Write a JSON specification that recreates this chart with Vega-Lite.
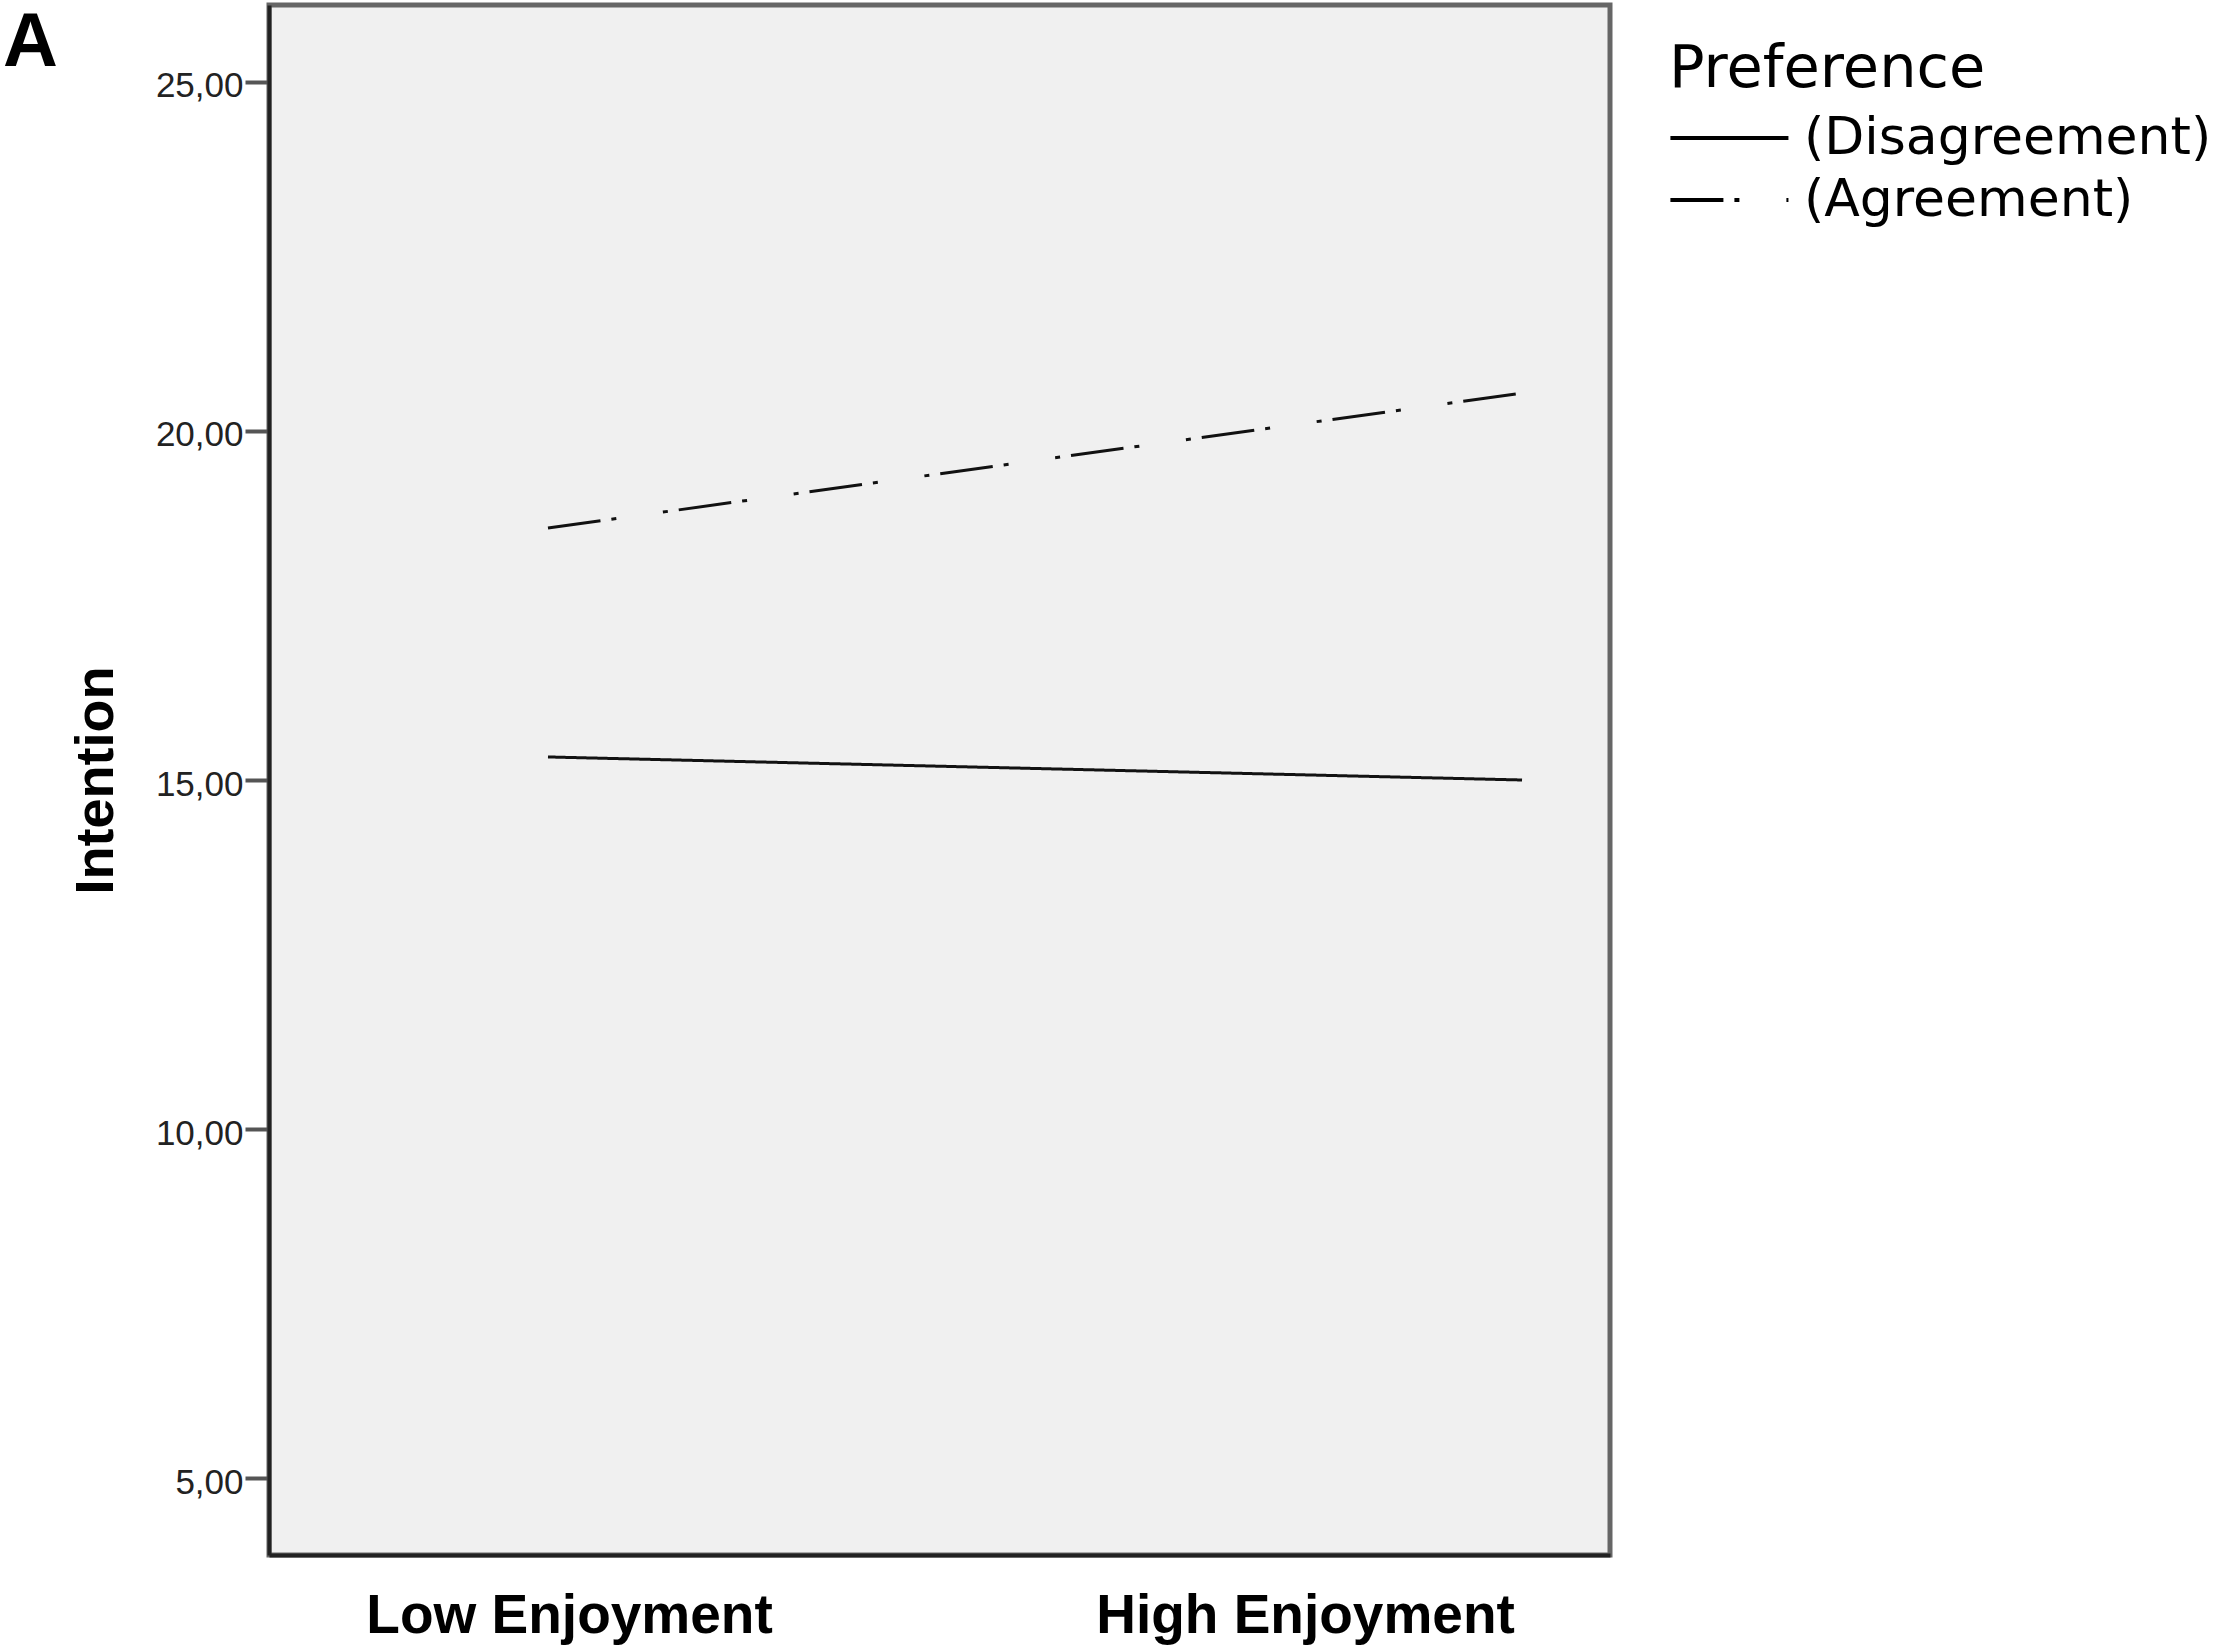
{
  "$schema": "https://vega.github.io/schema/vega-lite/v6.json",
  "autosize": {"type": "none"},
  "width": 1341,
  "height": 1550,
  "padding": {"left": 269, "top": 5, "right": 607, "bottom": 95},
  "background": "white",
  "title": {
    "text": "A",
    "anchor": "start",
    "frame": "group",
    "orient": "top",
    "offset": -77,
    "font": "Liberation Sans",
    "fontSize": 76,
    "fontWeight": "bold",
    "color": "black",
    "baseline": "top",
    "dx": -266,
    "limit": 0
  },
  "config": {
    "view": {"fill": "#f0f0f0", "stroke": "#666666", "strokeWidth": 5}
  },
  "data": {
    "values": [
      {"enjoyment": 1, "preference": "(Disagreement)", "intention": 15.33},
      {"enjoyment": 2, "preference": "(Disagreement)", "intention": 15.0},
      {"enjoyment": 1, "preference": "(Agreement)", "intention": 18.61},
      {"enjoyment": 2, "preference": "(Agreement)", "intention": 20.54}
    ]
  },
  "mark": {"type": "line", "color": "#111111", "strokeWidth": 3},
  "encoding": {
    "x": {
      "field": "enjoyment",
      "type": "quantitative",
      "scale": {"domain": [0.7136, 2.0903], "nice": false, "zero": false},
      "axis": {
        "title": null,
        "values": [1.0216, 1.7772],
        "labelExpr": "datum.value < 1.4 ? 'Low Enjoyment' : 'High Enjoyment'",
        "ticks": false,
        "grid": false,
        "domain": true,
        "domainColor": "#222222",
        "domainWidth": 4,
        "labelFont": "Liberation Sans",
        "labelFontSize": 55,
        "labelFontWeight": "bold",
        "labelColor": "black",
        "labelBaseline": "alphabetic",
        "labelAlign": "center",
        "labelPadding": 77,
        "labelFlush": false,
        "labelOverlap": false,
        "labelLimit": 0
      }
    },
    "y": {
      "field": "intention",
      "type": "quantitative",
      "scale": {"domain": [3.9, 26.1], "nice": false, "zero": false},
      "axis": {
        "title": "Intention",
        "values": [5, 10, 15, 20, 25],
        "labelExpr": "replace(format(datum.value, '.2f'), '.', ',')",
        "grid": false,
        "domain": true,
        "domainColor": "#222222",
        "domainWidth": 4,
        "ticks": true,
        "tickSize": 24,
        "tickWidth": 4,
        "tickColor": "#555555",
        "labelFont": "Liberation Sans",
        "labelFontSize": 35,
        "labelColor": "#222222",
        "labelPadding": 2,
        "labelOffset": 4,
        "labelFlush": false,
        "labelOverlap": false,
        "labelLimit": 0,
        "titleFont": "Liberation Sans",
        "titleFontSize": 54,
        "titleFontWeight": "bold",
        "titleColor": "black",
        "titleAngle": -90,
        "titleBaseline": "alphabetic",
        "titleAlign": "center",
        "titleX": -157,
        "titleY": 775,
        "titleLimit": 0
      }
    },
    "strokeDash": {
      "field": "preference",
      "type": "nominal",
      "scale": {
        "domain": ["(Disagreement)", "(Agreement)"],
        "range": [[1, 0], [53, 11, 5, 47, 5, 11]]
      },
      "legend": {
        "title": "Preference",
        "orient": "none",
        "legendX": 1400,
        "legendY": 35,
        "padding": 0,
        "titleFont": "DejaVu Sans",
        "titleFontSize": 59,
        "titleFontWeight": "normal",
        "titleColor": "black",
        "titleBaseline": "top",
        "titlePadding": 13,
        "titleLimit": 0,
        "labelFont": "DejaVu Sans",
        "labelFontSize": 52,
        "labelColor": "black",
        "labelOffset": 83,
        "labelLimit": 0,
        "rowPadding": 10,
        "symbolType": "M-2.5,0H9.5",
        "symbolSize": 387,
        "symbolStrokeWidth": 4,
        "symbolStrokeColor": "black",
        "symbolFillColor": "transparent",
        "encode": {
          "symbols": {
            "update": {
              "strokeDash": {"signal": "datum.value === '(Agreement)' ? [55, 19, 6, 13, 40] : [1, 0]"}
            }
          }
        }
      }
    }
  }
}
